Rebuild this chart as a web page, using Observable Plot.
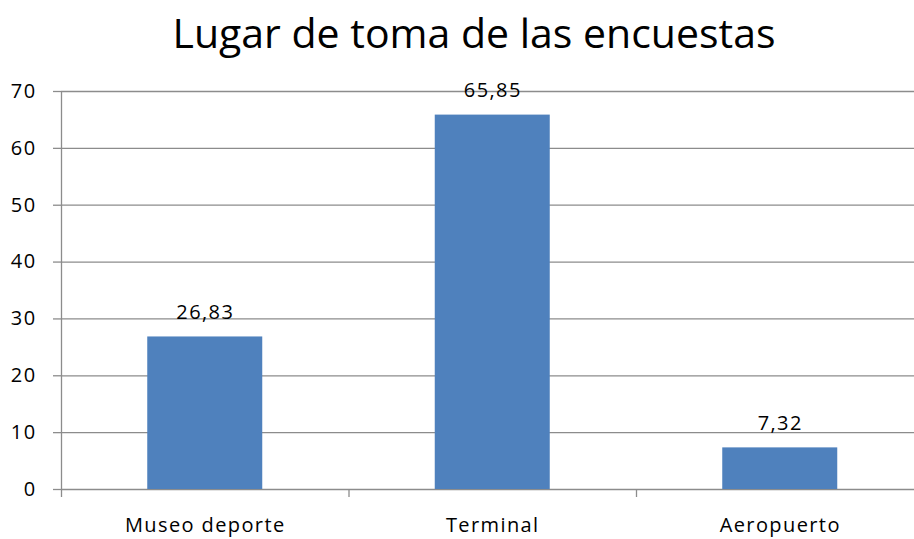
<!DOCTYPE html>
<html><head><meta charset="utf-8">
<script src="https://cdn.jsdelivr.net/npm/d3@7"></script>
<script src="https://cdn.jsdelivr.net/npm/@observablehq/plot@0.6"></script>
<style>
body{margin:0;background:#fff;font-family:"Open Sans",sans-serif;}
#title{height:70px;width:914px;box-sizing:border-box;padding-left:34px;text-align:center;font-size:41px;line-height:64px;color:#000;white-space:nowrap;overflow:hidden;}
#chart svg{display:block;}
#chart svg text{letter-spacing:1.4px;}
</style></head><body>
<div id="title">Lugar de toma de las encuestas</div>
<div id="chart"></div>
<script>
const categories = ["Museo deporte", "Terminal", "Aeropuerto"];
const values = [26.83, 65.85, 7.32];
const valueLabels = ["26,83", "65,85", "7,32"];
const yTicks = [0, 10, 20, 30, 40, 50, 60, 70];

const data = categories.map((c, i) => ({category: c, value: values[i], label: valueLabels[i], pos: i}));
const boundaries = categories.map((c, i) => i).concat([categories.length]);
const centers = categories.map((c, i) => i + 0.5);
const gray = "#8c8c8c";

const chart = Plot.plot({
  width: 914,
  height: 469,
  marginLeft: 61,
  marginRight: 0,
  marginTop: 21,
  marginBottom: 50,
  style: {fontFamily: "'Open Sans', sans-serif", background: "#fff"},
  x: {type: "linear", domain: [0, categories.length], range: [61, 923.5], axis: null, label: null},
  y: {domain: [0, 70], axis: null, label: null},
  marks: [
    Plot.gridY(yTicks, {stroke: gray, strokeOpacity: 1, strokeWidth: 1.3}),
    Plot.axisY({ticks: yTicks, tickSize: 8, tickPadding: 17, stroke: gray, strokeWidth: 1.3, fill: "#000", fontSize: 20, label: null}),
    Plot.ruleX([0], {stroke: gray, strokeWidth: 1.3}),
    Plot.axisX({ticks: boundaries, tickSize: 8, tickFormat: () => "", stroke: gray, strokeWidth: 1.3, label: null}),
    Plot.axisX({ticks: centers, tickSize: 0, tickPadding: 28, tickFormat: d => categories[Math.floor(d)], fill: "#000", fontSize: 20, label: null}),
    Plot.rectY(data, {x1: d => d.pos + 0.3, x2: d => d.pos + 0.7, y: "value", fill: "#4F81BD"}),
    Plot.text(data, {x: d => d.pos + 0.5, y: "value", text: "label", lineAnchor: "bottom", dy: -18, fontSize: 20, fill: "#000"})
  ]
});
document.getElementById("chart").appendChild(chart);
</script>
</body></html>
